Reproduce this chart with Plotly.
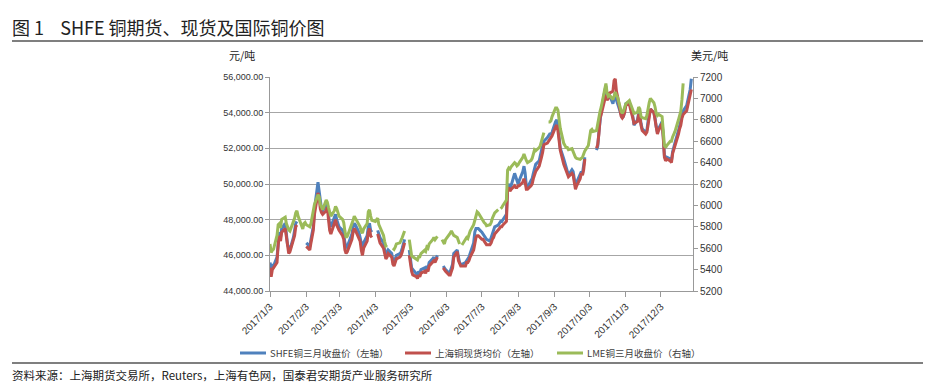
import plotly.graph_objects as go

# ---------------- data ----------------
dates = [
    "2017-01-03","2017-01-04","2017-01-05","2017-01-06","2017-01-09","2017-01-10","2017-01-11","2017-01-12","2017-01-13",
    "2017-01-16","2017-01-17","2017-01-18","2017-01-19","2017-01-20","2017-01-23","2017-01-24","2017-01-25","2017-01-26",
    "2017-01-27","2017-01-30","2017-01-31","2017-02-01","2017-02-02","2017-02-03","2017-02-06","2017-02-07","2017-02-08",
    "2017-02-09","2017-02-10","2017-02-13","2017-02-14","2017-02-15","2017-02-16","2017-02-17","2017-02-20","2017-02-21",
    "2017-02-22","2017-02-23","2017-02-24","2017-02-27","2017-02-28","2017-03-01","2017-03-02","2017-03-03","2017-03-06",
    "2017-03-07","2017-03-08","2017-03-09","2017-03-10","2017-03-13","2017-03-14","2017-03-15","2017-03-16","2017-03-17",
    "2017-03-20","2017-03-21","2017-03-22","2017-03-23","2017-03-24","2017-03-27","2017-03-28","2017-03-29","2017-03-30",
    "2017-03-31","2017-04-03","2017-04-04","2017-04-05","2017-04-06","2017-04-07","2017-04-10","2017-04-11","2017-04-12",
    "2017-04-13","2017-04-14","2017-04-17","2017-04-18","2017-04-19","2017-04-20","2017-04-21","2017-04-24","2017-04-25",
    "2017-04-26","2017-04-27","2017-04-28","2017-05-01","2017-05-02","2017-05-03","2017-05-04","2017-05-05","2017-05-08",
    "2017-05-09","2017-05-10","2017-05-11","2017-05-12","2017-05-15","2017-05-16","2017-05-17","2017-05-18","2017-05-19",
    "2017-05-22","2017-05-23","2017-05-24","2017-05-25","2017-05-26","2017-05-29","2017-05-30","2017-05-31","2017-06-01",
    "2017-06-02","2017-06-05","2017-06-06","2017-06-07","2017-06-08","2017-06-09","2017-06-12","2017-06-13","2017-06-14",
    "2017-06-15","2017-06-16","2017-06-19","2017-06-20","2017-06-21","2017-06-22","2017-06-23","2017-06-26","2017-06-27",
    "2017-06-28","2017-06-29","2017-06-30","2017-07-03","2017-07-04","2017-07-05","2017-07-06","2017-07-07","2017-07-10",
    "2017-07-11","2017-07-12","2017-07-13","2017-07-14","2017-07-17","2017-07-18","2017-07-19","2017-07-20","2017-07-21",
    "2017-07-24","2017-07-25","2017-07-26","2017-07-27","2017-07-28","2017-07-31","2017-08-01","2017-08-02","2017-08-03",
    "2017-08-04","2017-08-07","2017-08-08","2017-08-09","2017-08-10","2017-08-11","2017-08-14","2017-08-15","2017-08-16",
    "2017-08-17","2017-08-18","2017-08-21","2017-08-22","2017-08-23","2017-08-24","2017-08-25","2017-08-28","2017-08-29",
    "2017-08-30","2017-08-31","2017-09-01","2017-09-04","2017-09-05","2017-09-06","2017-09-07","2017-09-08","2017-09-11",
    "2017-09-12","2017-09-13","2017-09-14","2017-09-15","2017-09-18","2017-09-19","2017-09-20","2017-09-21","2017-09-22",
    "2017-09-25","2017-09-26","2017-09-27","2017-09-28","2017-09-29","2017-10-02","2017-10-03","2017-10-04","2017-10-05",
    "2017-10-06","2017-10-09","2017-10-10","2017-10-11","2017-10-12","2017-10-13","2017-10-16","2017-10-17","2017-10-18",
    "2017-10-19","2017-10-20","2017-10-23","2017-10-24","2017-10-25","2017-10-26","2017-10-27","2017-10-30","2017-10-31",
    "2017-11-01","2017-11-02","2017-11-03","2017-11-06","2017-11-07","2017-11-08","2017-11-09","2017-11-10","2017-11-13",
    "2017-11-14","2017-11-15","2017-11-16","2017-11-17","2017-11-20","2017-11-21","2017-11-22","2017-11-23","2017-11-24",
    "2017-11-27","2017-11-28","2017-11-29","2017-11-30","2017-12-01","2017-12-04","2017-12-05","2017-12-06","2017-12-07",
    "2017-12-08","2017-12-11","2017-12-12","2017-12-13","2017-12-14","2017-12-15","2017-12-18","2017-12-19","2017-12-20",
    "2017-12-21","2017-12-22","2017-12-25","2017-12-26","2017-12-27","2017-12-28","2017-12-29",
]

shfe_close = [
    45600,45200,45500,45400,45900,46900,47300,47000,47500,
    47800,47200,46600,46400,46300,47000,47400,47800,47900,
    None,None,None,None,None,46700,46500,46900,47300,
    47600,48600,50100,49600,48900,48600,48500,48800,48900,
    48300,47700,47600,48100,48300,48000,47800,47600,47400,
    47200,46700,46400,46500,47000,47200,47600,47800,47700,
    47300,47000,46600,46400,46700,47100,47600,47800,47400,
    47300,None,None,47400,47200,47000,46700,46300,46000,
    46100,46300,46100,45700,45600,45800,46000,46100,46200,
    46400,46700,46900,None,46300,45800,45300,45200,45000,
    44900,45100,45000,45200,45300,45200,45400,45300,45600,
    45800,45900,45700,45900,46000,None,None,45400,45300,
    45200,45000,45100,45300,45500,46100,46300,45900,45600,
    45500,45500,45600,45700,45800,45900,46100,46700,47300,
    47500,47500,47500,47300,47200,47100,47000,46900,46800,
    47000,47300,47400,47600,47700,47800,47900,47900,48000,
    48300,49900,50000,49800,49900,50600,50400,50100,50000,
    50200,50700,51000,50600,49900,49800,50200,50300,50600,
    50900,51100,51300,51700,51900,52100,52400,52600,52700,
    52800,52800,52900,53500,53600,53300,52500,52000,51400,
    51200,50900,50700,50500,50800,50700,50300,49900,50100,
    50500,50700,50600,51000,51500,None,None,None,None,
    None,51900,52100,52900,53700,54100,55200,55500,54900,
    54800,55000,54500,54800,55100,54700,54500,53900,53700,
    53800,54100,54500,54600,54300,54100,53800,53300,53600,
    54000,53900,53400,53100,52900,53000,53500,53900,54200,
    54000,53700,53200,52900,53100,53500,52700,51600,51400,
    51500,51400,51300,51800,52000,52300,53000,53300,53500,
    53900,54100,54400,54700,55000,55300,55900,
]

spot_avg = [
    45300,44800,45200,45300,45600,46600,47100,46800,47300,
    47500,47000,46400,46100,46200,46800,47100,47600,47700,
    None,None,None,None,None,46500,46300,46700,47000,
    47400,48300,49500,49200,48600,48400,48300,48500,48700,
    48000,47400,47200,47800,48000,47700,47500,47400,47100,
    46900,46300,46100,46200,46700,46900,47300,47500,47400,
    47000,46800,46300,46000,46400,46800,47300,47500,47100,
    47000,None,None,47200,47000,46700,46400,46000,45800,
    45900,46100,45900,45500,45400,45600,45800,45900,46000,
    46200,46500,46700,None,46000,45500,45100,44900,44800,
    44700,44900,44800,45000,45100,45000,45200,45100,45400,
    45600,45700,45600,45800,45900,None,None,45300,45200,
    45100,44900,44900,45100,45300,45900,46200,45700,45500,
    45400,45400,45400,45600,45600,45700,45900,46300,46800,
    47000,47100,47100,46900,46900,46800,46700,46600,46600,
    46700,46900,47000,47200,47400,47500,47600,47600,47700,
    47900,49700,49800,49600,49700,49900,49800,49800,49900,
    49900,50100,50300,50100,49700,49700,49900,50000,50300,
    50500,50700,51000,51200,51500,51800,52200,52300,52400,
    52500,52600,52700,53200,53300,53000,52200,51900,51100,
    50900,50700,50500,50400,50600,50500,50100,49700,49900,
    50300,50600,50500,50800,51400,None,None,None,None,
    None,52000,52200,52800,53700,53900,54700,55000,54700,
    54800,55100,55200,55800,55900,55200,54900,53800,53700,
    53800,54000,54400,54500,54200,54000,53700,53400,53500,
    53900,53800,53300,53000,52800,52900,53300,53800,54200,
    54000,53600,53000,52800,53000,53400,52600,51500,51300,
    51400,51300,51200,51700,51900,52200,52800,53100,53300,
    53700,53900,54100,54400,54700,55000,55300,
]

lme_close = [
    5640,5560,5580,5590,5720,5820,5830,5790,5870,
    5890,5830,5790,5770,5760,5840,5880,5930,5950,
    5900,5800,5780,5830,5840,5820,5800,5830,5880,
    5930,6010,6100,6080,6010,5990,5960,6050,6030,
    5980,5930,5900,5950,5990,5970,5920,5900,5870,
    5840,5760,5700,5710,5790,5820,5860,5900,5880,
    5820,5800,5760,5740,5780,5830,5940,5960,5900,
    5860,5850,5870,5880,5820,5790,5720,5660,5620,
    5630,None,None,5600,5590,5610,5640,5650,5670,
    5700,5730,5760,None,5680,5600,5530,5520,5500,
    5490,5520,5520,5550,5580,5570,5610,5600,5640,
    5680,5700,5680,5700,5710,None,5680,5650,5640,
    5680,5720,5740,5760,5740,5720,5700,5660,5640,
    None,5630,5690,5700,5690,5720,5760,5820,5860,
    5900,5940,5930,5870,5860,5840,5830,5810,5820,
    5840,5880,5900,5930,5960,None,5970,5980,6000,
    6050,6330,6350,6340,6360,6400,6390,6370,6380,
    6400,6450,6480,6440,6420,6400,6420,6440,6480,
    6520,6510,6540,6560,6600,6640,6680,None,6780,
    6780,6790,6830,6910,6910,6890,6800,6720,6580,
    6550,6540,6540,6520,6530,6500,6470,6450,6440,
    6430,6440,6450,6480,6510,6560,6640,6700,6710,
    6690,6700,6760,6850,6880,6920,7100,7140,7050,
    7020,7030,6990,7020,7060,7030,7010,6880,6860,
    6880,6930,6950,6980,6950,6930,6900,6860,6870,
    6920,6900,6830,6820,6810,6840,6920,6960,7000,
    6960,6920,6860,6840,6850,6830,6700,6560,6540,
    6560,6600,6600,6640,6660,6690,6800,6850,6880,
    6990,7140,None,None,None,None,None,
]

series_names = ["SHFE铜三月收盘价（左轴）", "上海铜现货均价（左轴）", "LME铜三月收盘价（右轴）"]
series_colors = ["#4F81BD", "#C0504D", "#9BBB59"]

tick_dates = ["2017-%02d-03" % m for m in range(1, 13)]
tick_text = ["2017/%d/3" % m for m in range(1, 13)]

# ---------------- layout helpers ----------------
W, H = 931, 384
L, R, T, B = 262, 685, 69, 283


def px_x(x):
    return (x - L) / (R - L)


def px_y(y):
    return (B - y) / (B - T)


fig = go.Figure()
fig.add_trace(go.Scatter(x=dates, y=shfe_close, name=series_names[0], mode="lines",
                         line=dict(color=series_colors[0], width=3), connectgaps=False, yaxis="y"))
fig.add_trace(go.Scatter(x=dates, y=spot_avg, name=series_names[1], mode="lines",
                         line=dict(color=series_colors[1], width=3), connectgaps=False, yaxis="y"))
fig.add_trace(go.Scatter(x=dates, y=lme_close, name=series_names[2], mode="lines",
                         line=dict(color=series_colors[2], width=3), connectgaps=False, yaxis="y2"))

axis_font = dict(family="Liberation Sans, Arial, sans-serif", size=9, color="#333333")
xtick_font = dict(family="Liberation Sans, Arial, sans-serif", size=10, color="#333333")

fig.update_layout(
    width=W, height=H,
    margin=dict(l=L, r=W - R, t=T, b=H - B, pad=0, autoexpand=False),
    paper_bgcolor="white", plot_bgcolor="white",
    showlegend=False,
    xaxis=dict(type="date", range=["2017-01-03", "2017-12-30 10:00"],
               tickmode="array", tickvals=tick_dates, ticktext=tick_text, tickangle=-45,
               tickfont=xtick_font, ticks="outside", ticklen=5, tickcolor="#999999",
               showline=True, linecolor="#999999", linewidth=1, showgrid=False, zeroline=False),
    yaxis=dict(range=[44000, 56000], dtick=2000, tickformat=",.2f", tickfont=axis_font,
               ticks="outside", ticklen=4, tickcolor="#999999",
               showline=True, linecolor="#999999", linewidth=1,
               showgrid=True, gridcolor="#A6A6A6", gridwidth=1, zeroline=False),
    yaxis2=dict(range=[5200, 7200], dtick=200, overlaying="y", side="right", tickfont=xtick_font,
                ticks="outside", ticklen=4, tickcolor="#999999",
                showline=True, linecolor="#999999", linewidth=1, showgrid=False, zeroline=False),
)

annots = [
    dict(text="图 1    SHFE 铜期货、现货及国际铜价图", x=px_x(2), y=px_y(19), xanchor="left", yanchor="middle",
         font=dict(family="Noto Sans CJK SC, sans-serif", size=18, color="#222222")),
    dict(text="元/吨", x=px_x(234), y=px_y(47), xanchor="center", yanchor="middle",
         font=dict(family="Noto Sans CJK SC, sans-serif", size=11, color="#222222")),
    dict(text="美元/吨", x=px_x(701), y=px_y(47), xanchor="center", yanchor="middle",
         font=dict(family="Noto Sans CJK SC, sans-serif", size=11, color="#222222")),
    dict(text="资料来源：上海期货交易所，Reuters，上海有色网，国泰君安期货产业服务研究所", x=px_x(2), y=px_y(367),
         xanchor="left", yanchor="middle",
         font=dict(family="Noto Sans CJK SC, sans-serif", size=11.5, color="#222222")),
]
for a in annots:
    fig.add_annotation(xref="paper", yref="paper", showarrow=False, **a)

# legend drawn as line samples + labels, one row below the chart
legend_line_x = [(232, 258), (397, 423), (549, 575)]
legend_y = 345
for (x0, x1), name, color in zip(legend_line_x, series_names, series_colors):
    fig.add_shape(type="line", xref="paper", yref="paper", x0=px_x(x0), x1=px_x(x1),
                  y0=px_y(legend_y), y1=px_y(legend_y), line=dict(color=color, width=3))
    fig.add_annotation(xref="paper", yref="paper", showarrow=False, text=name,
                       x=px_x(x1 + 2), y=px_y(legend_y), xanchor="left", yanchor="middle",
                       font=dict(family="Noto Sans CJK SC, sans-serif", size=9.5, color="#404040"))

fig.add_shape(type="line", xref="paper", yref="paper", x0=px_x(4), x1=px_x(927), y0=px_y(33), y1=px_y(33),
              line=dict(color="#555555", width=1.5))
fig.add_shape(type="line", xref="paper", yref="paper", x0=px_x(4), x1=px_x(927), y0=px_y(355), y1=px_y(355),
              line=dict(color="#555555", width=1.5))

fig.write_html("out.html")
